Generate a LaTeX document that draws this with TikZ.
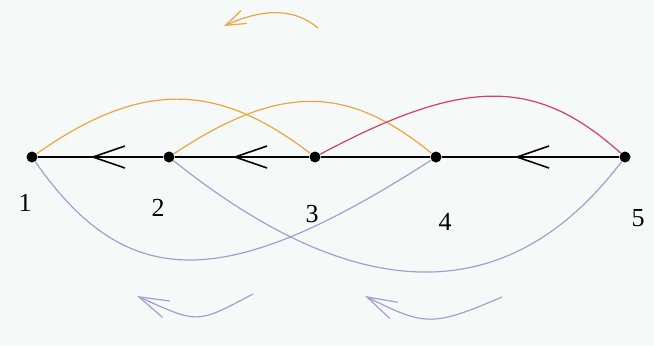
\documentclass[tikz,border=0pt]{standalone}
\usepackage{fontspec}
\setmainfont{Liberation Serif}
\usetikzlibrary{arrows.meta, decorations.markings}
\definecolor{corange}{HTML}{EFA440}
\definecolor{cred}{HTML}{D6405E}
\definecolor{clav}{HTML}{A0A0D0}
\definecolor{cback}{HTML}{F5F9F8}
\tikzset{
  every picture/.style={x=0.5pt, y=-0.5pt, font=\fontsize{13}{15}\selectfont},
  dot/.style={circle, fill=black, inner sep=0pt, minimum size=5.5pt},
  num/.style={inner sep=0pt},
  link/.style={draw=#1, line width=0.6pt},
  spine/.style={draw=black, line width=0.8pt},
  midtip/.style={postaction={decorate}, decoration={markings, mark=at position #1 with {\arrow{Straight Barb[length=16pt, width=11pt]}}}},
  curl/.style={draw=#1, line width=0.6pt, -{Straight Barb[length=15pt, width=9pt]}},
}

\begin{document}
\begin{tikzpicture}
  \fill[cback] (0,0) rectangle (654,345);
  \useasboundingbox (0,0) rectangle (654,345);
  \foreach \i/\x in {1/32,2/169,3/315,4/436,5/625} {
    \node[dot] (p\i) at (\x,157) {};
  }
  \foreach \i/\x/\y in {1/25/203,2/158/208,3/312/214,4/445/222,5/638/218} {
    \node[num] (l\i) at (\x,\y) {\i};
  }
  \draw[spine, midtip=0.58] (p2) -- (p1);
  \draw[spine, midtip=0.57] (p3) -- (p2);
  \draw[spine] (p3) -- (p4);
  \draw[spine, midtip=0.59] (p5) -- (p4);
  \draw[link=corange] (p1) .. controls +(108,-76) and +(-99,-76) .. (p3);
  \draw[link=corange] (p2) .. controls +(110,-73) and +(-89,-73) .. (p4);
  \draw[link=cred] (p3) .. controls +(150,-80) and +(-89,-80) .. (p5);
  \draw[link=clav] (p1) .. controls +(95,136) and +(-211,136) .. (p4);
  \draw[link=clav] (p2) .. controls +(190,152) and +(-115,152) .. (p5);
  \draw[curl=clav] (253,294) .. controls (196,324) and (199,324) .. (137,296);
  \draw[curl=clav] (502,297) .. controls (432,327) and (425,326) .. (365,296);
  \draw[curl=corange, -{Straight Barb[length=10pt, width=7pt]}] (318,28) .. controls (294,8) and (264,8) .. (224,26);
\end{tikzpicture}
\end{document}
